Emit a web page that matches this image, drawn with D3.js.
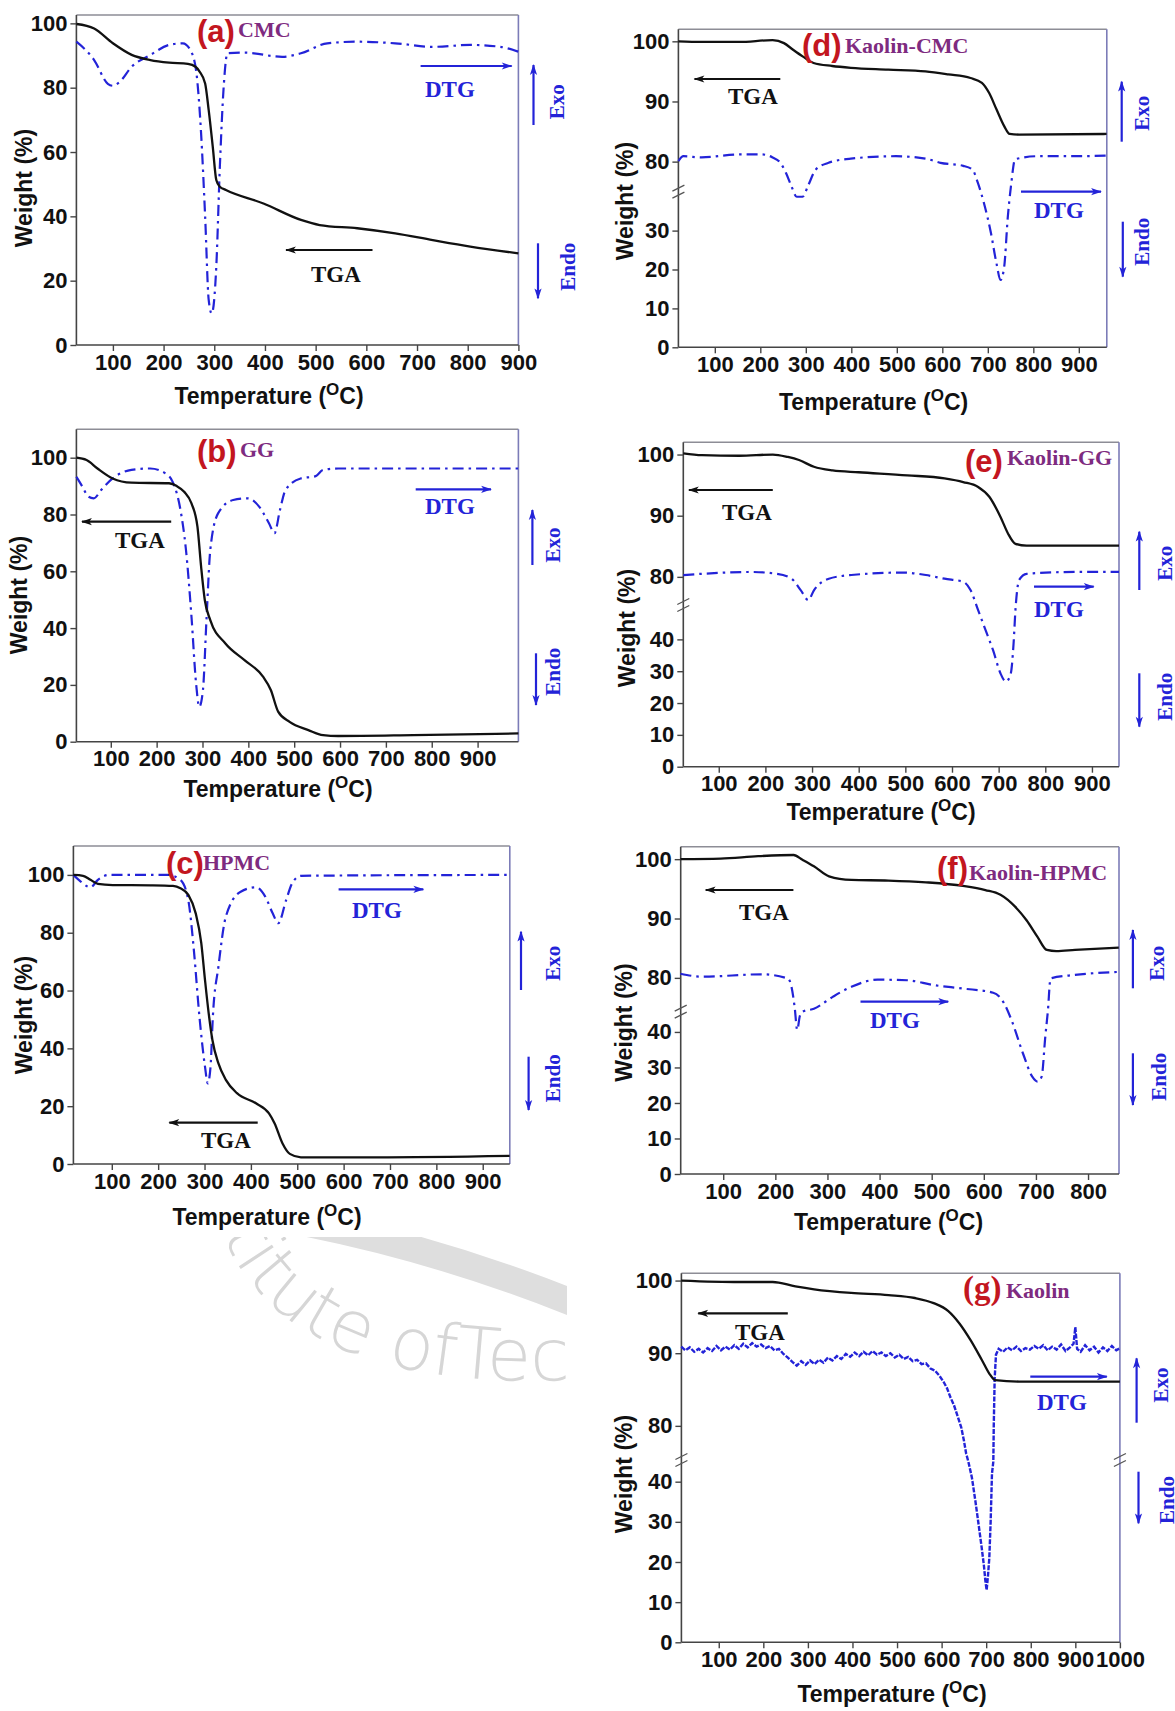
<!DOCTYPE html>
<html>
<head>
<meta charset="utf-8">
<script src="https://cdn.jsdelivr.net/npm/d3@7/dist/d3.min.js"></script>
<style>
  body { margin: 0; background: #fff; }
</style>
</head>
<body>
<div id="fig"></div>
<script>
// ---- data: [temperature °C, weight % / DTG in axis units] ----

const ticks900 = [100, 200, 300, 400, 500, 600, 700, 800, 900];
const ticks800 = [100, 200, 300, 400, 500, 600, 700, 800];
const ticks1000 = [100, 200, 300, 400, 500, 600, 700, 800, 900, 1000];
const yTicksFull = [0, 20, 40, 60, 80, 100];
const yTicksBrokenD = [0, 10, 20, 30, 80, 90, 100];
const yTicksBroken = [0, 10, 20, 30, 40, 80, 90, 100];

const tgaA = [[28,99.8],[63,98.4],[100,93.8],[137,90.2],[174,88.6],[211,87.8],[248,87.4],[263,86.5],[271,85],[282,81.3],[289,73],[297,61.7],[304,51.3],[311,49.2],[323,48.2],[397,44],[471,38.9],[508,37.3],[582,36.3],[657,34.7],[731,32.6],[805,30.6],[900,28.5]];
const dtgA = [[28,94.3],[63,88.6],[90,81.2],[100,80.6],[112,81.6],[137,86.5],[174,90.2],[211,93.3],[238,93.8],[256,90.7],[267,81.3],[274,65.8],[282,39.9],[289,14],[295,9.8],[304,24.4],[311,55.4],[319,81.3],[326,90.7],[360,90.9],[434,89.6],[471,90.7],[523,93.8],[582,94.3],[657,93.8],[731,92.7],[805,93.3],[864,92.7],[900,91.2]];

const tgaB = [[25,100],[47,99.2],[71,96.2],[104,92.7],[145,91.2],[227,91],[244,90],[260,88],[276,83.9],[289,75.7],[297,61.6],[305,49.9],[317,42.8],[350,34.6],[391,28.8],[432,22.9],[449,18.2],[465,10.6],[490,7],[531,4.1],[563,2.3],[596,2],[760,2.3],[989,2.9]];
const dtgB = [[25,93.3],[38,89.8],[51,86.3],[63,85.7],[79,88.6],[104,92.7],[145,95.7],[186,96.2],[219,94.5],[235,91.5],[252,81.6],[264,67.5],[276,44],[286,20.5],[293,12.3],[301,18.2],[309,44],[317,67.5],[334,80.4],[367,85.1],[399,85.7],[424,82.7],[445,76.9],[457,73.4],[469,81.6],[481,88.6],[514,92.7],[547,93.5],[563,95.7],[596,96.2],[989,96.2]];

const tgaC = [[17,100],[38,99.7],[54,98.3],[70,96.9],[102,96.5],[184,96.4],[232,96.2],[248,95.4],[265,93.1],[281,86.7],[293,76.4],[301,63.7],[309,52.1],[317,42.9],[330,34.8],[346,29.1],[370,24.5],[411,21],[439,17.5],[451,14.1],[468,7.2],[484,3.5],[508,2.3],[670,2.3],[958,2.8]];
const dtgC = [[17,100],[33,97.7],[54,95.7],[70,98.3],[94,100],[221,100],[248,98.3],[265,91.3],[277,74],[289,51],[301,33.7],[307,27.9],[313,33.7],[318,51],[330,68.3],[346,85.6],[378,94.2],[411,95.7],[431,92.5],[447,86.7],[459,83.3],[476,91.3],[489,97.1],[508,99.7],[958,100]];

const tgaD = [[20,100],[71,99.9],[153,99.9],[227,100.2],[252,99.7],[272,98.6],[293,97.5],[317,96.4],[358,95.9],[399,95.6],[481,95.3],[563,95],[613,94.5],[662,93.9],[687,93.1],[703,91.4],[719,88.7],[736,85.9],[748,84.6],[769,84.5],[961,84.6]];
const dtgD = [[20,80.1],[31,80.9],[71,80.7],[153,81.2],[203,81.2],[227,80.7],[244,79.8],[256,78.2],[268,76],[280,38.7],[293,38.7],[305,76],[322,78.7],[350,79.8],[399,80.5],[498,80.9],[563,80.5],[596,79.8],[646,79.3],[666,78.7],[678,76.5],[691,37.3],[707,29.3],[719,21.6],[728,17.3],[736,20.7],[744,33.6],[751,76],[760,80.4],[810,80.9],[892,80.9],[961,81]];

const tgaE = [[24,100.2],[64,99.9],[144,99.8],[216,100],[248,99.6],[272,99.1],[304,98],[344,97.4],[400,97.1],[504,96.6],[584,96.1],[624,95.5],[656,94.7],[680,93.1],[704,89.8],[720,87.1],[736,85.4],[760,85.1],[958,85.1]];
const dtgE = [[24,80.3],[64,80.5],[168,80.8],[224,80.5],[256,79.7],[276,77.8],[292,76.2],[304,77.8],[336,79.7],[384,80.3],[496,80.7],[544,80.3],[584,79.7],[624,79.2],[640,77.8],[656,49.2],[672,42.9],[688,36.6],[704,29.3],[716,26.7],[726,29.3],[732,38.7],[736,49.2],[744,79.5],[760,80.5],[864,80.8],[958,80.8]];

const tgaF = [[18,100],[95,100.1],[167,100.5],[235,100.7],[252,99.9],[274,98.8],[303,97.1],[346,96.5],[417,96.4],[489,96.1],[560,95.5],[603,94.8],[632,94],[660,92],[682,89.7],[703,86.9],[721,84.7],[739,84.5],[775,84.7],[859,85.1]];
const dtgF = [[18,80.7],[59,80.2],[174,80.6],[224,79.9],[231,78.5],[237,75.1],[242,40.6],[247,44.5],[252,74.3],[274,74.8],[310,76.8],[346,78.5],[396,79.7],[453,79.6],[503,78.8],[560,78.2],[618,77.5],[639,75.7],[653,43.4],[675,34],[693,27.4],[703,26],[711,27.4],[718,38.7],[723,74.5],[728,79.9],[775,80.5],[859,81]];

const tgaG = [[16,100],[146,99.8],[221,99.8],[272,99.2],[314,98.8],[397,98.3],[481,98],[540,97.6],[582,96.9],[615,95.8],[640,94.1],[665,91.8],[690,89.1],[707,87.2],[720,86.3],[774,86.1],[1000,86.1]];
const dtgG = [[16,90.9],[25,90.4],[35,90.8],[45,90.2],[55,90.6],[65,90.1],[75,90.7],[85,90.3],[95,91.0],[105,90.4],[115,90.9],[125,90.5],[135,91.1],[145,90.6],[155,91.3],[165,90.8],[175,91.4],[185,90.9],[195,91.2],[205,90.7],[215,91.0],[225,90.4],[235,90.6],[245,89.9],[255,89.4],[265,88.8],[275,88.3],[285,88.9],[295,88.4],[305,89.0],[315,88.5],[325,89.1],[335,88.7],[345,89.4],[355,89.0],[365,89.6],[375,89.2],[385,89.9],[395,89.5],[405,90.1],[415,89.6],[425,90.2],[435,89.7],[445,90.3],[455,89.8],[465,90.1],[475,89.6],[485,90.0],[495,89.4],[505,89.8],[515,89.2],[525,89.5],[535,88.9],[545,89.1],[555,88.5],[565,88.6],[575,87.9],[585,87.6],[595,86.9],[605,86.0],[612,85.2],[620,83.9],[628,82.8],[636,81.3],[644,79.8],[650,78.0],[655,76.2],[660,45.0],[668,41.0],[676,35.0],[684,28.5],[690,23.5],[695,19.0],[698,15.5],[701,13.0],[704,16.5],[707,21.0],[710,30.0],[713,42.0],[716,45.0],[717,80],[719,86.5],[722,89.8],[728,90.6],[738,90.2],[748,90.8],[758,90.4],[768,90.9],[778,90.3],[788,90.7],[798,90.5],[808,91.0],[818,90.6],[828,91.1],[838,90.4],[848,90.9],[858,90.5],[868,91.2],[878,90.3],[888,90.8],[896,91.3],[900,93.6],[904,90.6],[912,90.2],[922,91.1],[932,90.4],[942,90.9],[952,90.1],[962,90.8],[972,90.3],[982,91.0],[992,90.4],[1000,90.7]];

// ---- layout ----
const blue = "#2323d8";
const black = "#111";
const red = "#c3161f";
const purple = "#7e2b80";
const sans = "'Liberation Sans', Arial, sans-serif";
const serif = "'Liberation Serif', 'Times New Roman', serif";

const panels = [
  { tga: tgaA, dtg: dtgA, xDomain: [28, 900], xTicks: ticks900, frame: [76.4, 518.4, 15, 345],
    yDomain: [0, 102.6], yRange: [345, 15], yTicks: yTicksFull, breakY: null,
    tag: ["(a)", 197, 42], name: ["CMC", 238, 37], xTitle: [269, 404], yTitle: [24, 188],
    tgaArrow: [372.5, 250, 286, 250], tgaText: [311, 282],
    dtgArrow: [420.6, 66, 511.7, 66], dtgText: [425, 97],
    exo: [533.5, 125, 65, 557, 101.7], endo: [538, 243.3, 298.3, 568, 266.7] },
  { tga: tgaB, dtg: dtgB, xDomain: [25, 989], xTicks: ticks900, frame: [76.4, 518.4, 429.3, 741.7],
    yDomain: [0, 110], yRange: [741.7, 429.3], yTicks: yTicksFull, breakY: null,
    tag: ["(b)", 197, 462], name: ["GG", 240, 456.7], xTitle: [278, 797], yTitle: [19, 595],
    tgaArrow: [171.2, 521.7, 82, 521.7], tgaText: [115, 548.3],
    dtgArrow: [415.7, 489.3, 491, 489.3], dtgText: [425, 514],
    exo: [532.4, 565, 510, 553, 545], endo: [536, 653.3, 705, 553, 671.7] },
  { tga: tgaC, dtg: dtgC, xDomain: [17.2, 958.4], xTicks: ticks900, frame: [73.4, 509.8, 846, 1164],
    yDomain: [0, 110], yRange: [1164, 846], yTicks: yTicksFull, breakY: null,
    tag: ["(c)", 166, 874], name: ["HPMC", 203, 870], xTitle: [267, 1225], yTitle: [24, 1015],
    tgaArrow: [257.7, 1122.7, 169.3, 1122.7], tgaText: [201, 1148.3],
    dtgArrow: [338.6, 889.3, 423.3, 889.3], dtgText: [352, 918.3],
    exo: [521, 990, 931.7, 553, 963.3], endo: [528.6, 1056.7, 1110, 553, 1078.3] },
  { tga: tgaD, dtg: dtgD, xDomain: [20, 961.5], xTicks: ticks900, frame: [678.4, 1106.8, 29.3, 347.3],
    yDomain: [0, 40, 75, 102], yRange: [347.3, 191.7, 191.7, 29.3], yTicks: yTicksBrokenD, breakY: 191.7,
    tag: ["(d)", 802, 56], name: ["Kaolin-CMC", 845, 52.7], xTitle: [873.6, 410], yTitle: [625, 201],
    tgaArrow: [780.3, 79, 694.5, 79], tgaText: [728, 104.3],
    dtgArrow: [1021, 191.7, 1101, 191.7], dtgText: [1034, 218.3],
    exo: [1121.7, 141.7, 81.7, 1142, 113.3], endo: [1122.8, 221.7, 276.7, 1142, 241.7] },
  { tga: tgaE, dtg: dtgE, xDomain: [24, 958], xTicks: ticks900, frame: [683.3, 1119, 442.3, 766.7],
    yDomain: [0, 50.8, 75.4, 102], yRange: [766.7, 605, 605, 442.3], yTicks: yTicksBroken, breakY: 605,
    tag: ["(e)", 965, 472], name: ["Kaolin-GG", 1007, 465], xTitle: [881, 820], yTitle: [627, 628],
    tgaArrow: [772.8, 490, 688.9, 490], tgaText: [722, 520],
    dtgArrow: [1034, 586.7, 1093.7, 586.7], dtgText: [1034, 616.7],
    exo: [1139.3, 590, 531.7, 1164.6, 563.3], endo: [1139.3, 673.3, 726.7, 1164.6, 696.7] },
  { tga: tgaF, dtg: dtgF, xDomain: [18.4, 859.4], xTicks: ticks800, frame: [680.7, 1119, 846.7, 1174],
    yDomain: [0, 45.7, 74.3, 102.1], yRange: [1174, 1011.7, 1011.7, 846.7], yTicks: yTicksBroken, breakY: 1011.7,
    tag: ["(f)", 937, 879], name: ["Kaolin-HPMC", 969, 880], xTitle: [888.5, 1230], yTitle: [623.5, 1022.5],
    tgaArrow: [793.4, 890, 705.7, 890], tgaText: [739, 920],
    dtgArrow: [860.5, 1001.7, 948.2, 1001.7], dtgText: [870, 1028.3],
    exo: [1132.9, 988.3, 930, 1157, 963.3], endo: [1132.9, 1053.3, 1105, 1159, 1076.7] },
  { tga: tgaG, dtg: dtgG, xDomain: [16.2, 1000], xTicks: ticks1000, frame: [681.4, 1119.9, 1273.3, 1642.3],
    yDomain: [0, 45.4, 75.3, 101], yRange: [1642.3, 1460, 1460, 1273.3], yTicks: yTicksBroken, breakY: 1460,
    rightBreak: true, noisy: true, tagSerif: true,
    tag: ["(g)", 963, 1299], name: ["Kaolin", 1006, 1298], xTitle: [892, 1701.7], yTitle: [623.5, 1474],
    tgaArrow: [787.8, 1313.3, 698.2, 1313.3], tgaText: [735, 1340],
    dtgArrow: [1030.3, 1376.7, 1106.8, 1376.7], dtgText: [1037, 1410],
    exo: [1136.6, 1422.7, 1358.3, 1161, 1385], endo: [1138.5, 1471.7, 1523.3, 1166.5, 1500] }
];

const width = 1175;
const height = 1711;

const svg = d3.select("#fig")
  .append("svg")
    .attr("width", width)
    .attr("height", height)
    .attr("viewBox", `0 0 ${width} ${height}`);

const defs = svg.append("defs");
[["head-blue", blue], ["head-black", black]].forEach(([id, col]) => {
  defs.append("marker")
      .attr("id", id)
      .attr("viewBox", "0 -5 12 10")
      .attr("refX", 11)
      .attr("refY", 0)
      .attr("markerWidth", 13)
      .attr("markerHeight", 9)
      .attr("markerUnits", "userSpaceOnUse")
      .attr("orient", "auto")
    .append("path")
      .attr("d", "M0,-4L12,0L0,4L3,0Z")
      .attr("fill", col);
});

// faint watermark in the lower left corner
defs.append("clipPath").attr("id", "wm-clip")
  .append("rect").attr("x", 0).attr("y", 1237).attr("width", 567).attr("height", 474);
const wm = svg.append("g").attr("clip-path", "url(#wm-clip)");
wm.append("path")
    .attr("d", "M290,1220 Q450,1250 610,1318")
    .attr("fill", "none")
    .attr("stroke", "#dedede")
    .attr("stroke-width", 27);
defs.append("path").attr("id", "wm-path").attr("d", "M222,1234 Q300,1420 680,1370");
wm.append("text")
    .attr("font-family", "'DejaVu Sans', sans-serif")
    .attr("font-weight", 200)
    .attr("font-size", 72)
    .attr("fill", "#d6d6d6")
  .append("textPath")
    .attr("href", "#wm-path")
    .text("titute ofTechnology");

const drawArrow = (g, a, col) => {
  g.append("line")
      .attr("x1", a[0]).attr("y1", a[1])
      .attr("x2", a[2]).attr("y2", a[3])
      .attr("stroke", col)
      .attr("stroke-width", 2.2)
      .attr("marker-end", `url(#head-${col === blue ? "blue" : "black"})`);
};

const drawBreak = (g, x, y) => {
  [-3.5, 3.5].forEach(off => {
    g.append("line")
        .attr("x1", x - 6).attr("y1", y + off + 3)
        .attr("x2", x + 6).attr("y2", y + off - 3)
        .attr("stroke", "#555")
        .attr("stroke-width", 1.3);
  });
};

const drawPanel = (p) => {
  const [left, right, top, bottom] = p.frame;
  const g = svg.append("g");

  const xScale = d3.scaleLinear().domain(p.xDomain).range([left, right]);
  const yScale = d3.scaleLinear().domain(p.yDomain).range(p.yRange);

  // axes
  const bottomAxis = d3.axisBottom(xScale)
    .tickValues(p.xTicks)
    .tickFormat(d3.format("d"))
    .tickSize(6)
    .tickPadding(3);
  g.append("g")
      .attr("class", "axis-x")
      .attr("transform", `translate(0, ${bottom})`)
      .call(bottomAxis);

  const leftAxis = d3.axisLeft(yScale)
    .tickValues(p.yTicks)
    .tickFormat(d3.format("d"))
    .tickSize(6)
    .tickPadding(3);
  g.append("g")
      .attr("class", "axis-y")
      .attr("transform", `translate(${left}, 0)`)
      .call(leftAxis);

  g.selectAll(".domain").remove();
  g.selectAll(".tick line").attr("stroke", "#444").attr("stroke-width", 1.4);
  g.selectAll(".tick text")
      .attr("fill", black)
      .style("font-family", sans)
      .style("font-weight", "bold")
      .style("font-size", "22px");

  // frame
  g.append("line").attr("x1", left).attr("x2", right).attr("y1", top).attr("y2", top)
      .attr("stroke", "#8d8d96").attr("stroke-width", 1.5);
  g.append("line").attr("x1", right).attr("x2", right).attr("y1", top).attr("y2", bottom)
      .attr("stroke", "#7c7cb8").attr("stroke-width", 1.6);
  g.append("line").attr("x1", left).attr("x2", right).attr("y1", bottom).attr("y2", bottom)
      .attr("stroke", "#444").attr("stroke-width", 1.6);
  g.append("line").attr("x1", left).attr("x2", left).attr("y1", top).attr("y2", bottom)
      .attr("stroke", "#444").attr("stroke-width", 1.6);
  if (p.breakY) {
    drawBreak(g, left, p.breakY);
    if (p.rightBreak) drawBreak(g, right, p.breakY);
  }

  // curves
  const line = d3.line()
    .x(d => xScale(d[0]))
    .y(d => yScale(d[1]))
    .curve(p.noisy ? d3.curveLinear : d3.curveMonotoneX);

  g.append("path")
      .attr("d", line(p.dtg))
      .attr("fill", "none")
      .attr("stroke", blue)
      .attr("stroke-width", p.noisy ? 2.4 : 2.2)
      .attr("stroke-dasharray", p.noisy ? "5,1.5" : "11,5,2.5,5");

  line.curve(d3.curveMonotoneX);
  g.append("path")
      .attr("d", line(p.tga))
      .attr("fill", "none")
      .attr("stroke", black)
      .attr("stroke-width", 2.3);

  // axis titles
  const xt = g.append("text")
      .attr("x", p.xTitle[0])
      .attr("y", p.xTitle[1])
      .attr("text-anchor", "middle")
      .attr("fill", black)
      .style("font-family", sans)
      .style("font-weight", "bold")
      .style("font-size", "23px");
  xt.append("tspan").text("Temperature (");
  xt.append("tspan").attr("dy", -9).style("font-size", "17px").text("O");
  xt.append("tspan").attr("dy", 9).text("C)");

  g.append("text")
      .attr("transform", `translate(${p.yTitle[0]}, ${p.yTitle[1]}) rotate(-90)`)
      .attr("text-anchor", "middle")
      .attr("dominant-baseline", "central")
      .attr("fill", black)
      .style("font-family", sans)
      .style("font-weight", "bold")
      .style("font-size", "23px")
      .text("Weight (%)");

  // panel label
  g.append("text")
      .attr("x", p.tag[1])
      .attr("y", p.tag[2])
      .attr("fill", red)
      .style("font-family", p.tagSerif ? serif : sans)
      .style("font-weight", "bold")
      .style("font-size", p.tagSerif ? "33px" : "31px")
      .text(p.tag[0]);
  g.append("text")
      .attr("x", p.name[1])
      .attr("y", p.name[2])
      .attr("fill", purple)
      .style("font-family", serif)
      .style("font-weight", "bold")
      .style("font-size", "22px")
      .text(p.name[0]);

  // TGA / DTG arrows
  drawArrow(g, p.tgaArrow, black);
  g.append("text")
      .attr("x", p.tgaText[0]).attr("y", p.tgaText[1])
      .attr("fill", black)
      .style("font-family", serif).style("font-weight", "bold").style("font-size", "23px")
      .text("TGA");
  drawArrow(g, p.dtgArrow, blue);
  g.append("text")
      .attr("x", p.dtgText[0]).attr("y", p.dtgText[1])
      .attr("fill", blue)
      .style("font-family", serif).style("font-weight", "bold").style("font-size", "23px")
      .text("DTG");

  // Exo / Endo
  drawArrow(g, [p.exo[0], p.exo[1], p.exo[0], p.exo[2]], blue);
  drawArrow(g, [p.endo[0], p.endo[1], p.endo[0], p.endo[2]], blue);
  [["Exo", p.exo[3], p.exo[4]], ["Endo", p.endo[3], p.endo[4]]].forEach(([t, x, y]) => {
    g.append("text")
        .attr("transform", `translate(${x}, ${y}) rotate(-90)`)
        .attr("text-anchor", "middle")
        .attr("dominant-baseline", "central")
        .attr("fill", blue)
        .style("font-family", serif).style("font-weight", "bold").style("font-size", "21px")
        .text(t);
  });
};

panels.forEach(drawPanel);
</script>
</body>
</html>
